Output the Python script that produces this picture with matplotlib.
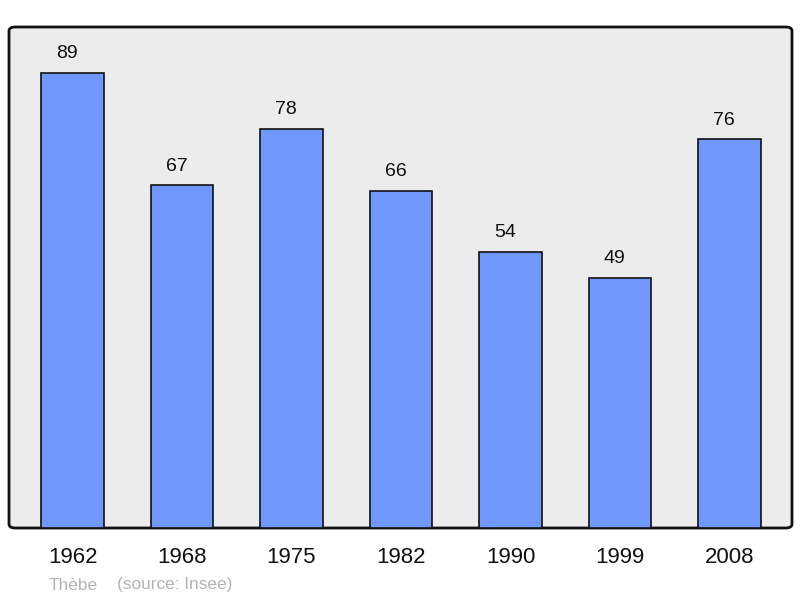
import matplotlib.pyplot as plt
import matplotlib.patches as mpatches

plt.rcParams['font.family'] = ['Liberation Sans', 'DejaVu Sans']

years = ['1962', '1968', '1975', '1982', '1990', '1999', '2008']
population = [89, 67, 78, 66, 54, 49, 76]
commune = 'Thèbe'
source = '(source: Insee)'

fig = plt.figure(figsize=(8, 5.98), dpi=100)
ax = fig.add_axes([9/800, 1 - 528/598, 783/800, 501/598])
ax.set_facecolor('none')

# rounded grey frame
frame = mpatches.FancyBboxPatch((0, 0), 1, 1, boxstyle='round,pad=0,rounding_size=0.008',
                                transform=ax.transAxes, facecolor='#ececec',
                                edgecolor='#111111', linewidth=2, zorder=0, clip_on=False)
ax.add_patch(frame)

pos = range(len(years))
bars = ax.bar(pos, population, width=0.575, color='#7098ff', edgecolor='#111111',
              linewidth=1.2, zorder=2)
for x, v in zip(pos, population):
    ax.annotate(str(v), (x, v), xytext=(-4, 14), textcoords='offset points',
                ha='center', va='center', fontsize=14, color='#111111')

ax.set_xlim(-0.58, 6.571)
ax.set_ylim(0, 98)
for s in ax.spines.values():
    s.set_visible(False)
ax.set_yticks([])
ax.set_xticks(list(pos))
ax.set_xticklabels(years, fontsize=16, color='#111111')
ax.tick_params(axis='x', length=0, pad=14)

fig.text(49/800, 1 - 585/598, commune, fontsize=12.4, color='#b4b4b4', va='center')
fig.text(117/800, 1 - 585/598, source, fontsize=12.4, color='#b4b4b4', va='center')

fig.savefig('out.png', dpi=100)
